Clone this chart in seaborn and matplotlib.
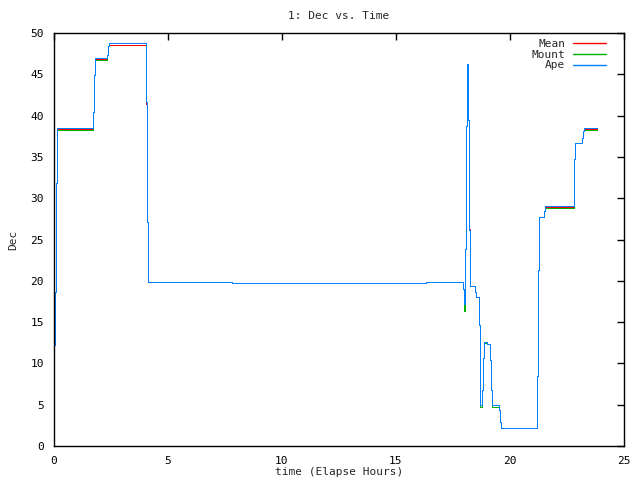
import pandas as pd
import matplotlib
matplotlib.use("Agg")
import matplotlib.pyplot as plt
import seaborn as sns

# step breakpoints (hours) and Dec values held after each breakpoint
elapsed_hours = [0.0, 0.06, 0.10, 0.15, 1.72, 1.77, 1.81, 2.35, 2.38, 2.43,
                 4.05, 4.09, 4.14, 7.8, 16.3, 17.95, 18.0, 18.04, 18.07, 18.11,
                 18.16, 18.19, 18.23, 18.48, 18.52, 18.63, 18.67, 18.70, 18.79,
                 18.83, 18.87, 19.0, 19.12, 19.17, 19.21, 19.53, 19.57, 19.62,
                 21.2, 21.24, 21.29, 21.48, 21.52, 21.55, 22.8, 22.82, 22.86,
                 23.14, 23.19, 23.23, 23.8]

ape_dec = [12.2, 18.7, 31.8, 38.45, 40.5, 44.9, 47.0, 47.4, 48.4, 48.85,
           41.6, 27.1, 19.8, 19.75, 19.8, 19.0, 17.2, 23.8, 38.7, 46.2,
           39.5, 26.1, 19.4, 18.7, 18.0, 14.6, 8.2, 4.9, 6.8,
           10.6, 12.55, 12.4, 10.4, 6.8, 4.9, 4.3, 2.95, 2.15,
           8.5, 21.3, 27.7, 28.5, 28.8, 29.05, 30.9, 34.8, 36.75,
           37.25, 38.2, 38.45, 38.45]

mount_dec = [12.2, 18.7, 31.8, 38.25, 40.5, 44.9, 46.75, 47.4, 48.4, 48.85,
             41.6, 27.1, 19.8, 19.75, 19.8, 19.0, 16.4, 23.8, 38.7, 46.2,
             39.5, 26.1, 19.4, 18.7, 18.0, 14.6, 8.2, 4.75, 6.8,
             10.6, 12.5, 12.3, 10.4, 6.8, 4.75, 4.3, 2.95, 2.15,
             8.5, 21.3, 27.7, 28.5, 28.8, 28.8, 30.9, 34.8, 36.75,
             37.25, 38.2, 38.25, 38.25]

mean_dec = [12.2, 18.7, 31.8, 38.35, 40.5, 44.9, 46.9, 47.4, 48.4, 48.6,
            41.4, 27.1, 19.8, 19.75, 19.8, 19.0, 16.8, 23.8, 38.7, 46.2,
            39.5, 26.3, 19.4, 18.7, 18.0, 14.6, 8.2, 4.9, 6.8,
            10.6, 12.5, 12.35, 10.4, 6.8, 4.9, 4.3, 2.95, 2.15,
            8.5, 21.3, 27.7, 28.5, 28.8, 28.9, 30.9, 34.8, 36.75,
            37.25, 38.2, 38.35, 38.35]

series_names = ["Mean", "Mount", "Ape"]
colors = ["#ff0000", "#00b000", "#0080ff"]

frames = []
for name, values in zip(series_names, [mean_dec, mount_dec, ape_dec]):
    frames.append(pd.DataFrame({"time": elapsed_hours, "Dec": values, "series": name}))
df = pd.concat(frames, ignore_index=True)

sns.set_theme(style="white")
plt.rcParams["font.family"] = ["DejaVu Sans Mono"]
plt.rcParams["font.size"] = 8

fig = plt.figure(figsize=(6.4, 4.8), dpi=100)
ax = fig.add_axes([0.084, 0.071, 0.891, 0.86])

sns.lineplot(
    data=df, x="time", y="Dec", hue="series", palette=colors,
    hue_order=series_names, estimator=None, sort=False,
    drawstyle="steps-post", linewidth=0.72, antialiased=False, ax=ax,
)

ax.set_xlim(0, 25)
ax.set_ylim(0, 50)
ax.set_xticks(range(0, 26, 5))
ax.set_yticks(range(0, 51, 5))
ax.tick_params(direction="in", length=5, width=1, top=True, right=True,
               labelsize=8, colors="black", pad=7)
for spine in ax.spines.values():
    spine.set_color("black")
    spine.set_linewidth(1)

ax.set_title("1: Dec vs. Time", fontsize=8, pad=10)
ax.set_xlabel("time (Elapse Hours)", fontsize=8, labelpad=1)
ax.set_ylabel("Dec", fontsize=8, labelpad=9)

leg = ax.legend(loc="upper right", frameon=False, markerfirst=False,
                handlelength=3.0, labelspacing=0.05, fontsize=8,
                borderaxespad=0.2, borderpad=0.1, handletextpad=0.7,
                bbox_to_anchor=(0.975, 0.993))
for line in leg.get_lines():
    line.set_antialiased(True)
    line.set_linewidth(1.0)

fig.savefig("out.png", dpi=100)
